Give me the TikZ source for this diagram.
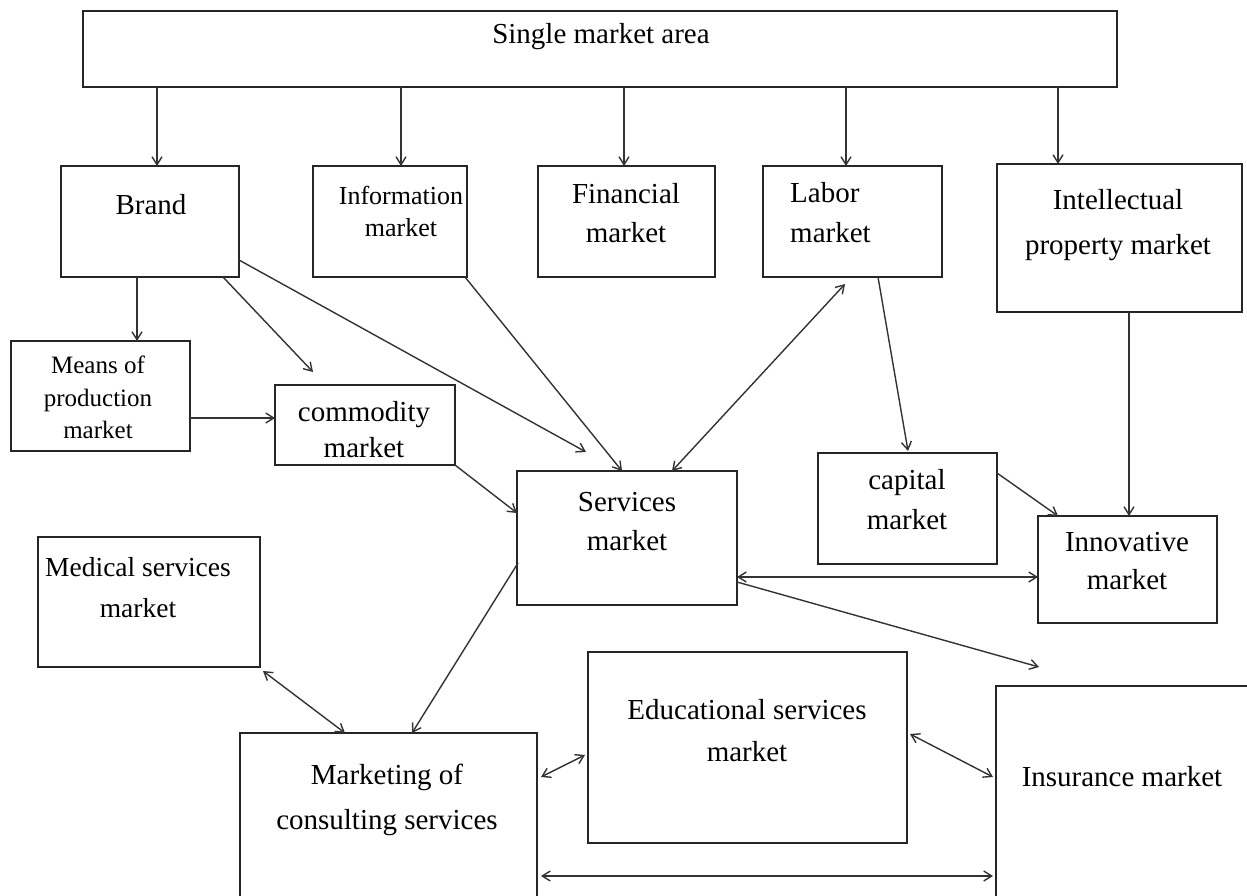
\documentclass[tikz,border=0pt]{standalone}
\usepackage{fontspec}
\setmainfont{Liberation Serif}
\usetikzlibrary{arrows.meta,calc}
\newcommand{\tsz}[2]{\fontsize{#1}{#2}\selectfont}
\tikzset{
  box/.style={draw=black!85, line width=1.6pt, inner sep=0pt, outer sep=0pt, rectangle},
  txt/.style={align=center, inner sep=0pt, text=black},
  conn/.style={draw=black!80, line width=1.4pt, -{Straight Barb[length=8pt,width=10pt]}},
  biconn/.style={draw=black!80, line width=1.4pt, {Straight Barb[length=8pt,width=10pt]}-{Straight Barb[length=8pt,width=10pt]}}
}
\begin{document}
\begin{tikzpicture}[x=1pt,y=-1pt]
\useasboundingbox (0,0) rectangle (1247,896);
\fill[white] (0,0) rectangle (1247,896);
\clip (0,0) rectangle (1247,896);

% boxes
\node[box, minimum width=1034, minimum height=76]  (top)     at (600,49)      {};
\node[box, minimum width=178,  minimum height=111] (brand)   at (150,221.5)   {};
\node[box, minimum width=154,  minimum height=111] (info)    at (390,221.5)   {};
\node[box, minimum width=177,  minimum height=111] (fin)     at (626.5,221.5) {};
\node[box, minimum width=179,  minimum height=111] (labor)   at (852.5,221.5) {};
\node[box, minimum width=245,  minimum height=148] (intel)   at (1119.5,238)  {};
\node[box, minimum width=179,  minimum height=110] (means)   at (100.5,396)   {};
\node[box, minimum width=180,  minimum height=80]  (comm)    at (365,425)     {};
\node[box, minimum width=220,  minimum height=134] (serv)    at (627,538)     {};
\node[box, minimum width=179,  minimum height=111] (capital) at (907.5,508.5) {};
\node[box, minimum width=179,  minimum height=107] (innov)   at (1127.5,569.5){};
\node[box, minimum width=222,  minimum height=130] (medical) at (149,602)     {};
\node[box, minimum width=297,  minimum height=180] (mkt)     at (388.5,823)   {};
\node[box, minimum width=319,  minimum height=191] (edu)     at (747.5,747.5) {};
\node[box, minimum width=270,  minimum height=230] (ins)     at (1131,801)    {};

% texts
\node[txt, font=\tsz{29}{40}] (t-top)   at (601,37)   {Single market area};
\node[txt, font=\tsz{29}{40}] (t-brand) at (151,205)  {Brand};
\node[txt, font=\tsz{26}{32}] (t-info)  at (401,211)  {Information\\market};
\node[txt, font=\tsz{29}{39}] (t-fin)   at (626,213.5){Financial\\market};
\node[txt, font=\tsz{29}{40}, align=left, anchor=west] (t-labor) at (790,213) {Labor\\market};
\node[txt, font=\tsz{29}{45}] (t-intel) at (1118,225.5){Intellectual\\property market};
\node[txt, font=\tsz{25}{32.5}] (t-means) at (98,397.5) {Means of\\production\\market};
\node[txt, font=\tsz{29}{36}] (t-comm)  at (364,430)  {commodity\\market};
\node[txt, font=\tsz{29}{39}] (t-serv)  at (627,521.5){Services\\market};
\node[txt, font=\tsz{29}{40}] (t-cap)   at (907,500)  {capital\\market};
\node[txt, font=\tsz{29}{38}] (t-innov) at (1127,561) {Innovative\\market};
\node[txt, font=\tsz{27.5}{41}] (t-med) at (138,587.5){Medical services\\market};
\node[txt, font=\tsz{29}{45}] (t-mkt)   at (387,799.5){Marketing of\\consulting services};
\node[txt, font=\tsz{29}{42}] (t-edu)   at (747,731)  {Educational services\\market};
\node[txt, font=\tsz{29}{40}] (t-ins)   at (1122,777) {Insurance market};

% free ends
\coordinate (c1) at (313,372);
\coordinate (c2) at (586,452);
\coordinate (c3) at (845,284);
\coordinate (c4) at (1039,667);

% connectors
\draw[conn] ($(top.north west)+(74,76)$)  -- ($(brand.north west)+(96,0)$);
\draw[conn] ($(top.north west)+(318,76)$) -- ($(info.north west)+(88,0)$);
\draw[conn] ($(top.north west)+(541,76)$) -- ($(fin.north west)+(86,0)$);
\draw[conn] ($(top.north west)+(763,76)$) -- ($(labor.north west)+(83,0)$);
\draw[conn] ($(top.north west)+(975,76)$) -- ($(intel.north west)+(61,0)$);

\draw[conn] ($(brand.north west)+(76,111)$)  -- ($(means.north west)+(126,0)$);
\draw[conn] ($(brand.north west)+(162,111)$) -- (c1);
\draw[conn] ($(brand.north west)+(178,94)$)  -- (c2);
\draw[conn] ($(means.north west)+(179,77)$)  -- ($(comm.north west)+(0,33)$);
\draw[conn] ($(info.north west)+(152,111)$)  -- ($(serv.north west)+(105,0)$);
\draw[biconn] ($(serv.north west)+(155,0)$)  -- (c3);
\draw[conn] ($(comm.north west)+(180,80)$)   -- ($(serv.north west)+(0,42)$);
\draw[conn] ($(labor.north west)+(115,111)$) -- ($(capital.north west)+(90,-2)$);
\draw[conn] ($(intel.north west)+(132,148)$) -- ($(innov.north west)+(91,0)$);
\draw[conn] ($(capital.north west)+(179,20)$) -- ($(innov.north west)+(20,0)$);
\draw[biconn] ($(serv.north west)+(220,106)$) -- ($(innov.north west)+(0,61)$);
\draw[conn] ($(serv.north west)+(220,111)$)  -- (c4);
\draw[conn] ($(serv.north west)+(1,92)$)     -- ($(mkt.north west)+(172,0)$);
\draw[biconn] ($(medical.south east)+(3,4)$) -- ($(mkt.north west)+(105,0)$);
\draw[biconn] ($(mkt.north west)+(301,44)$)  -- ($(edu.north west)+(-3,103)$);
\draw[biconn] ($(edu.north west)+(322,82)$)  -- ($(ins.north west)+(-3,91)$);
\draw[biconn] ($(mkt.north west)+(301,143)$) -- ($(ins.north west)+(-3,190)$);
\end{tikzpicture}
\end{document}
